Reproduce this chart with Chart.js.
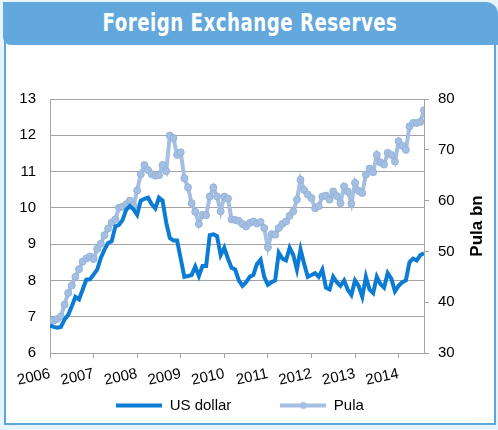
<!DOCTYPE html>
<html lang="en">
<head>
    <meta charset="UTF-8">
    <title>Foreign Exchange Reserves</title>
    <script src="https://cdn.jsdelivr.net/npm/chart.js"></script>
    <style>
        html, body { margin: 0; padding: 0; }
        body { width: 498px; height: 430px; background: #e8f4fd; position: relative; overflow: hidden; }
        #panel { position: absolute; left: 4px; top: 30px; width: 488px; height: 391px; background: #fff; border: 2px solid #5ea7dc; }
        #band { position: absolute; left: 3px; top: 2px; width: 495px; height: 43px; background: #62a8dc;
                border-radius: 0 12px 0 8px; color: #fff; text-align: center;
                font: bold 25px "Liberation Sans Narrow", "DejaVu Sans Condensed", sans-serif; line-height: 42px; }
        #band span { display: inline-block; transform: scaleX(0.81); letter-spacing: 0.6px; white-space: nowrap; }
        #chart { position: absolute; left: 0; top: 0; }
    </style>
</head>
<body>
    <div id="panel"></div>
    <div id="band"><span>Foreign Exchange Reserves</span></div>
    <canvas id="chart" width="498" height="430"></canvas>

    <script>
        // monthly values, Jan 2006 onwards
        const startYear = 2006;
        const usDollar = [
            6.75, 6.72, 6.70, 6.72, 6.92, 7.05, 7.29, 7.55, 7.48, 7.75, 8.02, 8.03,
            8.16, 8.30, 8.62, 8.85, 9.03, 9.08, 9.49, 9.53, 9.67, 9.95, 10.05, 9.96,
            9.81, 10.20, 10.25, 10.28, 10.10, 9.98, 10.28, 10.20, 9.60, 9.17, 9.10, 9.10,
            8.60, 8.10, 8.12, 8.15, 8.38, 8.12, 8.40, 8.40, 9.25, 9.27, 9.22, 8.70,
            8.90, 8.60, 8.35, 8.30, 8.00, 7.85, 7.95, 8.10, 8.15, 8.45, 8.57, 8.10,
            7.88, 7.95, 8.00, 8.76, 8.60, 8.55, 8.90, 8.70, 8.30, 8.85, 8.45, 8.10,
            8.15, 8.20, 8.10, 8.30, 7.80, 7.75, 8.10, 7.95, 7.85, 8.00, 7.75, 7.60,
            8.00, 7.85, 7.55, 8.10, 7.75, 7.65, 8.10, 7.90, 7.80, 8.20, 8.05, 7.70,
            7.85, 7.95, 8.00, 8.50, 8.60, 8.55, 8.70, 8.75
        ];
        const pula = [
            35.9, 36.4, 36.7, 37.2, 39.5, 41.8, 43.3, 45.0, 46.5, 48.0, 48.6, 49.0,
            48.5, 50.5, 51.5, 53.2, 54.5, 55.7, 56.3, 58.6, 58.8, 59.3, 60.0, 59.0,
            62.0, 65.2, 67.0, 66.0, 65.2, 64.9, 65.0, 67.0, 65.8, 72.8, 72.3, 69.0,
            69.5, 64.4, 62.6, 59.5, 57.8, 55.4, 57.2, 57.1, 60.8, 62.6, 60.8, 57.9,
            60.8, 60.4, 56.3, 56.2, 56.0, 55.4, 54.9, 55.6, 55.9, 55.5, 55.8, 54.6,
            50.8, 53.4, 53.3, 54.6, 55.4, 55.9, 57.0, 57.9, 60.2, 64.1, 62.1, 61.2,
            60.5, 58.5, 58.9, 60.8, 61.0, 60.2, 61.8, 60.9, 59.5, 62.8, 61.8, 59.4,
            63.5, 61.9, 61.5, 65.1, 66.3, 65.6, 69.0, 67.5, 67.1, 69.4, 69.0, 67.7,
            71.7, 70.8, 70.0, 74.6, 75.3, 75.3, 75.5, 77.8
        ];
        const seriesNames = ['US dollar', 'Pula'];
        const rightAxisTitle = 'Pula bn';

        const toPoints = arr => arr.map((v, i) => ({ x: i, y: v }));
        const lastMonth = usDollar.length - 1;
        // one tick each January
        const yearTicks = [];
        for (let m = 0; m <= lastMonth; m += 12) yearTicks.push(m);

        const usdColor = '#0b7bd3';
        const pulaColor = '#a4bfe2';
        const gridGrey = '#a3a3a3';
        const tickFont = { family: '"Liberation Sans", Arial, sans-serif', size: 15 };
        const sampleW = 46;

        // little pictures for the legend: a line, and for Pula a line with a dot
        function legendSample(color, width, dot) {
            const c = document.createElement('canvas');
            c.width = sampleW;
            c.height = 10;
            const g = c.getContext('2d');
            g.strokeStyle = color;
            g.lineWidth = width;
            g.beginPath();
            g.moveTo(0, 5);
            g.lineTo(sampleW, 5);
            g.stroke();
            if (dot) {
                g.fillStyle = color;
                g.beginPath();
                g.arc(sampleW / 2, 5, 3.5, 0, Math.PI * 2);
                g.fill();
            }
            return c;
        }
        const samples = [legendSample(usdColor, 4, false), legendSample(pulaColor, 4, true)];

        const extras = {
            id: 'extras',
            afterLayout(chart) {
                // the wide item padding also pads the legend top; pull it back up
                const lg = chart.legend;
                lg.top -= 42; lg.bottom -= 42;
                lg.left -= 9; lg.right -= 9;
            },
            afterDraw(chart) {
                // right axis title reads bottom-to-top
                const ctx = chart.ctx;
                const area = chart.chartArea;
                const y1 = chart.scales.y1;
                ctx.save();
                ctx.translate(y1.right - 21, (area.top + area.bottom) / 2);
                ctx.rotate(-Math.PI / 2);
                ctx.font = 'bold 17px "Liberation Sans", Arial, sans-serif';
                ctx.fillStyle = '#000';
                ctx.textAlign = 'center';
                ctx.textBaseline = 'middle';
                ctx.fillText(rightAxisTitle, 0, 0);
                ctx.restore();
            }
        };

        new Chart(document.getElementById('chart').getContext('2d'), {
            type: 'line',
            data: {
                datasets: [{
                    label: seriesNames[0],
                    data: toPoints(usDollar),
                    yAxisID: 'y',
                    borderColor: usdColor,
                    backgroundColor: usdColor,
                    borderWidth: 4,
                    pointRadius: 0,
                    tension: 0,
                }, {
                    label: seriesNames[1],
                    data: toPoints(pula),
                    yAxisID: 'y1',
                    borderColor: pulaColor,
                    backgroundColor: pulaColor,
                    borderWidth: 4,
                    pointRadius: 3.5,
                    pointBackgroundColor: pulaColor,
                    pointBorderColor: '#94b3da',
                    pointBorderWidth: 1,
                    tension: 0,
                }],
            },
            options: {
                responsive: false,
                animation: false,
                devicePixelRatio: 1,
                layout: { padding: { top: 99, left: 0, right: 0, bottom: -35 } },
                plugins: {
                    tooltip: { enabled: false },
                    legend: {
                        position: 'bottom',
                        labels: {
                            usePointStyle: true,
                            pointStyleWidth: sampleW,
                            padding: 49,
                            color: '#000',
                            font: tickFont,
                            generateLabels(chart) {
                                const items = Chart.defaults.plugins.legend.labels.generateLabels(chart);
                                items.forEach((it, i) => { it.pointStyle = samples[i]; });
                                return items;
                            },
                        },
                    },
                },
                scales: {
                    x: {
                        type: 'linear',
                        min: 0,
                        max: lastMonth,
                        grid: { drawOnChartArea: false, color: gridGrey, tickLength: 5 },
                        border: { color: gridGrey },
                        ticks: {
                            autoSkip: false,
                            minRotation: 12,
                            maxRotation: 12,
                            color: '#000',
                            font: tickFont,
                            padding: 7,
                            callback: v => String(startYear + v / 12),
                        },
                        afterBuildTicks: s => { s.ticks = yearTicks.map(v => ({ value: v })); },
                        // labels are clipped to the axis box, so it needs room for them
                        afterFit: s => { s.height = 38; },
                    },
                    y: {
                        position: 'left',
                        min: 6,
                        max: 13,
                        grid: { color: gridGrey, drawTicks: false },
                        border: { color: gridGrey },
                        ticks: { stepSize: 1, color: '#000', font: tickFont, padding: 14 },
                        afterFit: s => { s.width = 50; },
                    },
                    y1: {
                        position: 'right',
                        min: 30,
                        max: 80,
                        grid: { drawOnChartArea: false, color: gridGrey, tickLength: 5 },
                        border: { color: gridGrey },
                        ticks: { stepSize: 10, color: '#000', font: tickFont, padding: 9 },
                        afterFit: s => { s.width = 74; },
                    },
                },
            },
            plugins: [extras],
        });
    </script>
</body>
</html>
